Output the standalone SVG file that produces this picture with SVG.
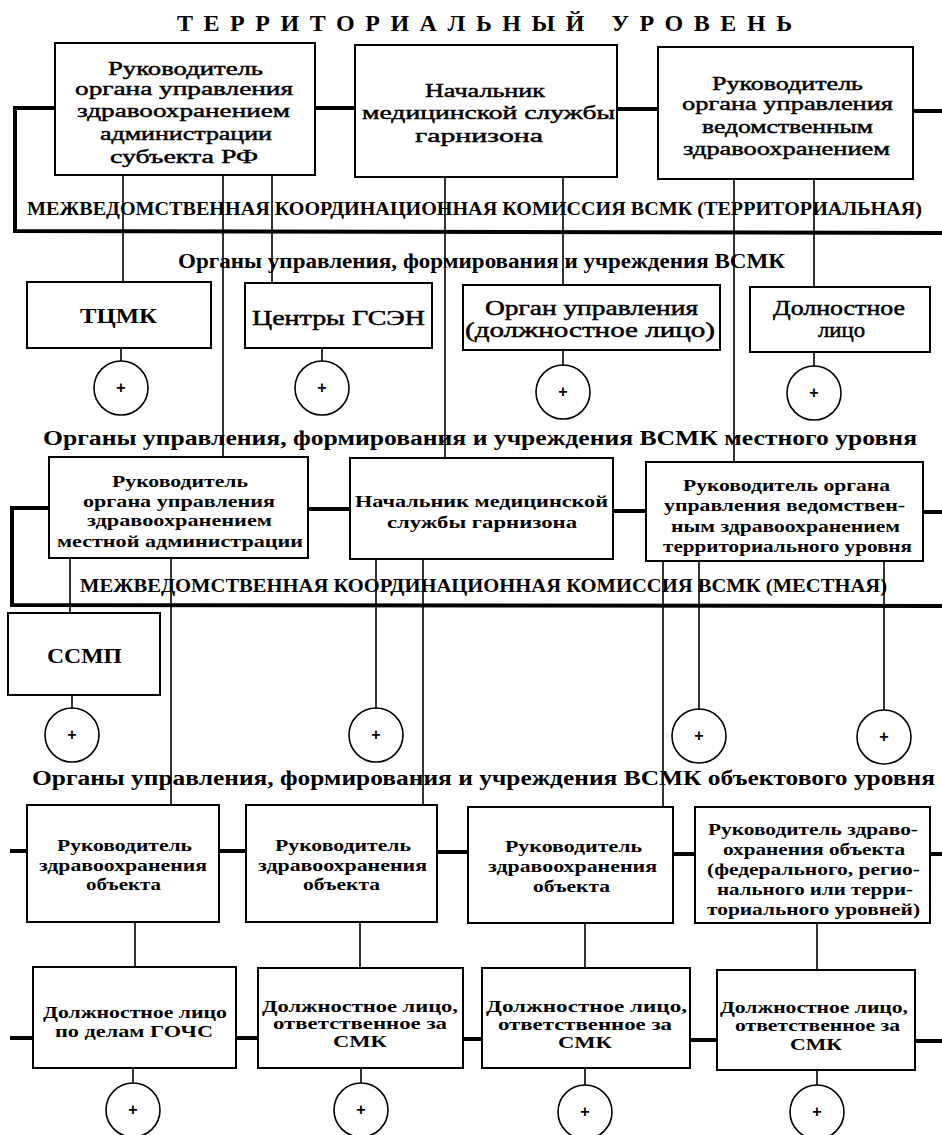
<svg xmlns="http://www.w3.org/2000/svg" width="942" height="1135" viewBox="0 0 942 1135" font-family="'Liberation Serif','DejaVu Serif',serif">
<style>
text{font-family:"Liberation Serif","DejaVu Serif","Times New Roman",serif;fill:#000;text-anchor:middle}
.b{font-weight:bold}
.m{stroke:#000;stroke-width:0.45}
.s19{font-size:19px}
.s17{font-size:17px}
.s20{font-size:20px}
.box{fill:#fff;stroke:#000;stroke-width:2}
.bar{stroke:#000;stroke-width:4;fill:none}
.ln{stroke:#000;stroke-width:1.6;fill:none}
.circ{fill:#fff;stroke:#000;stroke-width:1.6}
.plus{font-size:16px;font-family:"Liberation Sans",Arial,sans-serif;font-weight:bold}
</style>
<rect width="942" height="1135" fill="#fff"/>

<g id="labels">
<text class="b" x="484.5" y="31" font-size="24" textLength="615" lengthAdjust="spacing">ТЕРРИТОРИАЛЬНЫЙ УРОВЕНЬ</text>
<text class="b s19" x="474.5" y="215" textLength="895" lengthAdjust="spacingAndGlyphs">МЕЖВЕДОМСТВЕННАЯ КООРДИНАЦИОННАЯ КОМИССИЯ ВСМК (ТЕРРИТОРИАЛЬНАЯ)</text>
<text class="b s20" x="481.5" y="268" textLength="607" lengthAdjust="spacingAndGlyphs">Органы управления, формирования и учреждения ВСМК</text>
<text class="b s20" x="480" y="445" textLength="874" lengthAdjust="spacingAndGlyphs">Органы управления, формирования и учреждения ВСМК местного уровня</text>
<text class="b s19" x="483.5" y="592" textLength="807" lengthAdjust="spacingAndGlyphs">МЕЖВЕДОМСТВЕННАЯ КООРДИНАЦИОННАЯ КОМИССИЯ ВСМК (МЕСТНАЯ)</text>
<text class="b s20" x="483.5" y="785" textLength="903" lengthAdjust="spacingAndGlyphs">Органы управления, формирования и учреждения ВСМК объектового уровня</text>
</g>

<g id="connectors">
<path class="bar" d="M15,231 L15,108 L55,108 M315,108 L355,108 M617,109 L658,109 M913,111 L942,111 M13,231 L942,233"/>
<path class="bar" d="M12,605 L12,508 L49,508 M308,509 L350,509 M613,511 L646,511 M923,512 L942,512 M10,605 L942,606"/>
<path class="bar" d="M10,851 L27,851 M219,851 L246,851 M437,852 L468,852 M673,854 L695,854 M930,854 L942,854"/>
<path class="bar" d="M10,1038 L33,1038 M236,1038 L258,1038 M463,1039 L482,1039 M690,1040 L717,1040 M915,1041 L942,1041"/>
<path class="ln" d="M123,175 L123,282 M223,175 L223,457 M272,175 L272,283 M445,177 L445,458 M563,177 L563,285 M734,179 L734,462 M814,179 L814,287"/>
<path class="ln" d="M121,348 L121,361 M322,348 L322,361 M563,350 L563,365 M814,352 L814,366"/>
<path class="ln" d="M70,558 L70,613 M72,695 L72,708 M171,558 L171,805 M376,559 L376,708 M423,559 L423,805 M663,561 L663,807 M699,561 L699,709 M884,561 L884,710"/>
<path class="ln" d="M135,922 L135,967 M360,922 L360,968 M585,923 L585,968 M817,923 L817,970"/>
<path class="ln" d="M133,1068 L133,1083 M361,1068 L361,1083 M585,1068 L585,1085 M817,1070 L817,1085"/>
</g>

<g id="n_ter1">
<rect class="box" x="55" y="43" width="260" height="132"/>
<text class="s19 m" x="185.5" y="75" textLength="155" lengthAdjust="spacingAndGlyphs">Руководитель</text>
<text class="s19 m" x="184" y="95" textLength="218" lengthAdjust="spacingAndGlyphs">органа управления</text>
<text class="s19 m" x="183.5" y="117" textLength="213" lengthAdjust="spacingAndGlyphs">здравоохранением</text>
<text class="s19 m" x="186" y="140" textLength="172" lengthAdjust="spacingAndGlyphs">администрации</text>
<text class="s19 m" x="184" y="163" textLength="148" lengthAdjust="spacingAndGlyphs">субъекта РФ</text>
</g>
<g id="n_ter2">
<rect class="box" x="355" y="45" width="262" height="132"/>
<text class="s19 m" x="485" y="97" textLength="120" lengthAdjust="spacingAndGlyphs">Начальник</text>
<text class="s19 m" x="488.5" y="119" textLength="253" lengthAdjust="spacingAndGlyphs">медицинской службы</text>
<text class="s19 m" x="479" y="142" textLength="128" lengthAdjust="spacingAndGlyphs">гарнизона</text>
</g>
<g id="n_ter3">
<rect class="box" x="658" y="47" width="255" height="132"/>
<text class="s19 m" x="787.5" y="90" textLength="151" lengthAdjust="spacingAndGlyphs">Руководитель</text>
<text class="s19 m" x="787.5" y="110" textLength="211" lengthAdjust="spacingAndGlyphs">органа управления</text>
<text class="s19 m" x="787.5" y="133" textLength="171" lengthAdjust="spacingAndGlyphs">ведомственным</text>
<text class="s19 m" x="786.5" y="155" textLength="207" lengthAdjust="spacingAndGlyphs">здравоохранением</text>
</g>

<g id="n_tcmk">
<rect class="box" x="27" y="282" width="184" height="66"/>
<text class="s20 b" x="118.5" y="323" textLength="77" lengthAdjust="spacingAndGlyphs">ТЦМК</text>
</g>
<g id="n_gsen">
<rect class="box" x="245" y="283" width="187" height="65"/>
<text class="s20 m" x="338.5" y="325" textLength="173" lengthAdjust="spacingAndGlyphs">Центры ГСЭН</text>
</g>
<g id="n_organ">
<rect class="box" x="463" y="285" width="257" height="65"/>
<text class="s20 m" x="591.5" y="315" textLength="213" lengthAdjust="spacingAndGlyphs">Орган управления</text>
<text class="s20 m" x="590" y="337" textLength="250" lengthAdjust="spacingAndGlyphs">(должностное лицо)</text>
</g>
<g id="n_dol">
<rect class="box" x="750" y="287" width="180" height="65"/>
<text class="s20 m" x="839" y="315" textLength="132" lengthAdjust="spacingAndGlyphs">Долностное</text>
<text class="s20 m" x="841.5" y="337" textLength="47" lengthAdjust="spacingAndGlyphs">лицо</text>
</g>
<g id="c_r2">
<circle class="circ" cx="121" cy="388" r="27"/><text class="plus" x="121" y="393">+</text>
<circle class="circ" cx="322" cy="388" r="27"/><text class="plus" x="322" y="393">+</text>
<circle class="circ" cx="563" cy="392" r="27"/><text class="plus" x="563" y="397">+</text>
<circle class="circ" cx="814" cy="393" r="27"/><text class="plus" x="814" y="398">+</text>
</g>

<g id="n_loc1">
<rect class="box" x="49" y="457" width="259" height="101"/>
<text class="s17 b" x="180" y="487" textLength="136" lengthAdjust="spacingAndGlyphs">Руководитель</text>
<text class="s17 b" x="179" y="507" textLength="192" lengthAdjust="spacingAndGlyphs">органа управления</text>
<text class="s17 b" x="179.5" y="526" textLength="185" lengthAdjust="spacingAndGlyphs">здравоохранением</text>
<text class="s17 b" x="180" y="547" textLength="246" lengthAdjust="spacingAndGlyphs">местной администрации</text>
</g>
<g id="n_loc2">
<rect class="box" x="350" y="458" width="263" height="101"/>
<text class="s17 b" x="481.5" y="507" textLength="253" lengthAdjust="spacingAndGlyphs">Начальник медицинской</text>
<text class="s17 b" x="482" y="528" textLength="190" lengthAdjust="spacingAndGlyphs">службы гарнизона</text>
</g>
<g id="n_loc3">
<rect class="box" x="646" y="462" width="277" height="99"/>
<text class="s17 b" x="786.5" y="491" textLength="207" lengthAdjust="spacingAndGlyphs">Руководитель органа</text>
<text class="s17 b" x="784.5" y="511" textLength="241" lengthAdjust="spacingAndGlyphs">управления ведомствен-</text>
<text class="s17 b" x="785.5" y="532" textLength="229" lengthAdjust="spacingAndGlyphs">ным здравоохранением</text>
<text class="s17 b" x="787.5" y="552" textLength="249" lengthAdjust="spacingAndGlyphs">территориального уровня</text>
</g>
<g id="n_ssmp">
<rect class="box" x="8" y="613" width="152" height="82"/>
<text class="s20 b" x="84.5" y="663" textLength="75" lengthAdjust="spacingAndGlyphs">ССМП</text>
</g>
<g id="c_r4">
<circle class="circ" cx="72" cy="735" r="27"/><text class="plus" x="72" y="740">+</text>
<circle class="circ" cx="376" cy="735" r="27"/><text class="plus" x="376" y="740">+</text>
<circle class="circ" cx="699" cy="736" r="27"/><text class="plus" x="699" y="741">+</text>
<circle class="circ" cx="884" cy="737" r="27"/><text class="plus" x="884" y="742">+</text>
</g>

<g id="n_obj1">
<rect class="box" x="27" y="805" width="192" height="117"/>
<text class="s17 b" x="124.5" y="851" textLength="135" lengthAdjust="spacingAndGlyphs">Руководитель</text>
<text class="s17 b" x="123" y="871" textLength="168" lengthAdjust="spacingAndGlyphs">здравоохранения</text>
<text class="s17 b" x="123.5" y="890" textLength="75" lengthAdjust="spacingAndGlyphs">объекта</text>
</g>
<g id="n_obj2">
<rect class="box" x="246" y="805" width="191" height="117"/>
<text class="s17 b" x="343" y="851" textLength="136" lengthAdjust="spacingAndGlyphs">Руководитель</text>
<text class="s17 b" x="342.5" y="871" textLength="169" lengthAdjust="spacingAndGlyphs">здравоохранения</text>
<text class="s17 b" x="341.5" y="890" textLength="77" lengthAdjust="spacingAndGlyphs">объекта</text>
</g>
<g id="n_obj3">
<rect class="box" x="468" y="807" width="205" height="116"/>
<text class="s17 b" x="573.5" y="852" textLength="137" lengthAdjust="spacingAndGlyphs">Руководитель</text>
<text class="s17 b" x="572.5" y="872" textLength="169" lengthAdjust="spacingAndGlyphs">здравоохранения</text>
<text class="s17 b" x="571.5" y="892" textLength="77" lengthAdjust="spacingAndGlyphs">объекта</text>
</g>
<g id="n_obj4">
<rect class="box" x="695" y="807" width="235" height="116"/>
<text class="s17 b" x="813" y="835" textLength="210" lengthAdjust="spacingAndGlyphs">Руководитель здраво-</text>
<text class="s17 b" x="814" y="855" textLength="182" lengthAdjust="spacingAndGlyphs">охранения объекта</text>
<text class="s17 b" x="813.5" y="875" textLength="213" lengthAdjust="spacingAndGlyphs">(федерального, регио-</text>
<text class="s17 b" x="815" y="895" textLength="196" lengthAdjust="spacingAndGlyphs">нального или терри-</text>
<text class="s17 b" x="813.5" y="915" textLength="213" lengthAdjust="spacingAndGlyphs">ториального уровней)</text>
</g>

<g id="n_off1">
<rect class="box" x="33" y="967" width="203" height="101"/>
<text class="s17 b" x="135" y="1018" textLength="184" lengthAdjust="spacingAndGlyphs">Должностное лицо</text>
<text class="s17 b" x="134" y="1037" textLength="158" lengthAdjust="spacingAndGlyphs">по делам ГОЧС</text>
</g>
<g id="n_off2">
<rect class="box" x="258" y="968" width="205" height="100"/>
<text class="s17 b" x="360" y="1012" textLength="196" lengthAdjust="spacingAndGlyphs">Должностное лицо,</text>
<text class="s17 b" x="360" y="1029" textLength="174" lengthAdjust="spacingAndGlyphs">ответственное за</text>
<text class="s17 b" x="360" y="1047" textLength="54" lengthAdjust="spacingAndGlyphs">СМК</text>
</g>
<g id="n_off3">
<rect class="box" x="482" y="968" width="208" height="100"/>
<text class="s17 b" x="586.5" y="1012" textLength="201" lengthAdjust="spacingAndGlyphs">Должностное лицо,</text>
<text class="s17 b" x="585" y="1030" textLength="174" lengthAdjust="spacingAndGlyphs">ответственное за</text>
<text class="s17 b" x="585" y="1048" textLength="54" lengthAdjust="spacingAndGlyphs">СМК</text>
</g>
<g id="n_off4">
<rect class="box" x="717" y="970" width="198" height="100"/>
<text class="s17 b" x="814" y="1013" textLength="188" lengthAdjust="spacingAndGlyphs">Должностное лицо,</text>
<text class="s17 b" x="817.5" y="1031" textLength="165" lengthAdjust="spacingAndGlyphs">ответственное за</text>
<text class="s17 b" x="816" y="1050" textLength="52" lengthAdjust="spacingAndGlyphs">СМК</text>
</g>
<g id="c_r6">
<circle class="circ" cx="133" cy="1110" r="27"/><text class="plus" x="133" y="1115">+</text>
<circle class="circ" cx="361" cy="1110" r="27"/><text class="plus" x="361" y="1115">+</text>
<circle class="circ" cx="585" cy="1112" r="27"/><text class="plus" x="585" y="1117">+</text>
<circle class="circ" cx="817" cy="1112" r="27"/><text class="plus" x="817" y="1117">+</text>
</g>
</svg>
